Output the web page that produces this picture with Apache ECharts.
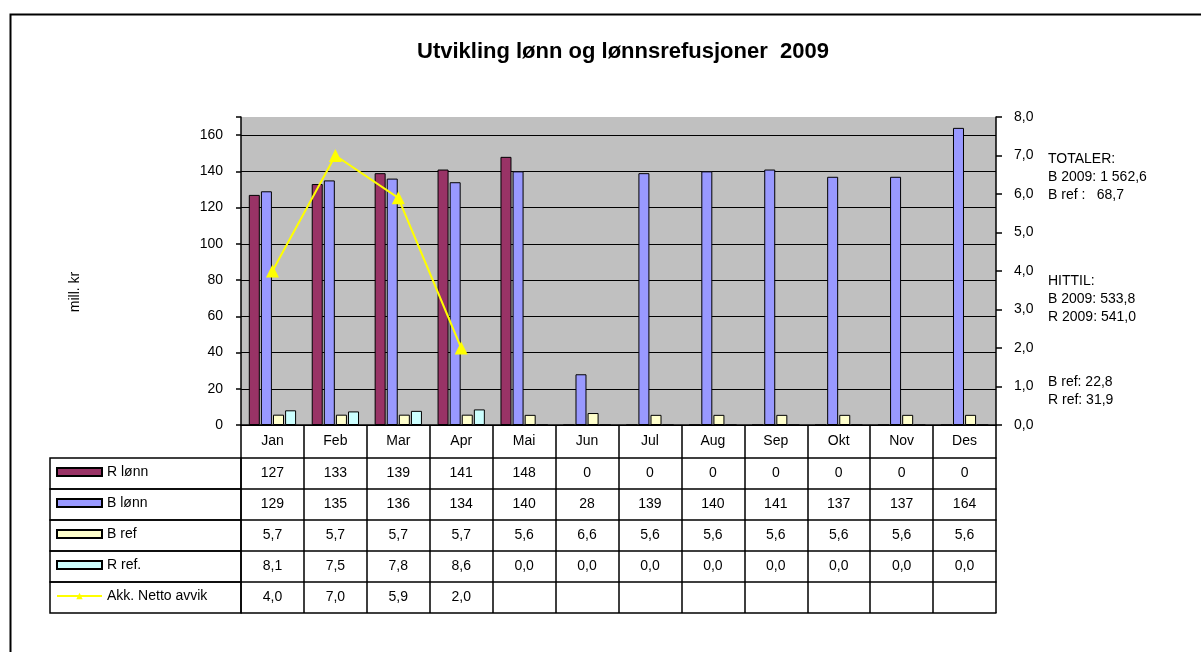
<!DOCTYPE html>
<html>
<head>
<meta charset="utf-8">
<script src="https://cdn.jsdelivr.net/npm/echarts@6/dist/echarts.min.js"></script>
<style>
  html, body { margin: 0; padding: 0; background: #fff; }
  #chart { width: 1201px; height: 652px; }
</style>
</head>
<body>
<div id="chart"></div>
<script>
// data
var months = ['Jan', 'Feb', 'Mar', 'Apr', 'Mai', 'Jun', 'Jul', 'Aug', 'Sep', 'Okt', 'Nov', 'Des'];
var rLonn = [127, 133, 139, 141, 148, 0, 0, 0, 0, 0, 0, 0];
var bLonn = [129, 135, 136, 134, 140, 28, 139, 140, 141, 137, 137, 164];
var bRef = [5.7, 5.7, 5.7, 5.7, 5.6, 6.6, 5.6, 5.6, 5.6, 5.6, 5.6, 5.6];
var rRef = [8.1, 7.5, 7.8, 8.6, 0, 0, 0, 0, 0, 0, 0, 0];
var nettoAvvik = [4.0, 7.0, 5.9, 2.0, null, null, null, null, null, null, null, null];
var leftTicks = [0, 20, 40, 60, 80, 100, 120, 140, 160];
var totalerText = ['TOTALER:', 'B 2009: 1 562,6', 'B ref :'];
var totalerRef = '68,7';
var hittilText = ['HITTIL:', 'B 2009: 533,8', 'R 2009: 541,0'];
var refText = ['B ref: 22,8', 'R ref: 31,9'];

var FONT = 'Liberation Sans, Arial, sans-serif';
var GRID_L = 241, GRID_R = 996, GRID_T = 117, GRID_B = 425;
var HEAD_H = 33;
var ROW_H = 31;

function dec(v) {
  return v == null ? '' : v.toFixed(1).replace('.', ',');
}

var rows = [
  { name: 'R lønn', values: rLonn, fmt: function (v) { return String(v); } },
  { name: 'B lønn', values: bLonn, fmt: function (v) { return String(v); } },
  { name: 'B ref', values: bRef, fmt: dec },
  { name: 'R ref.', values: rRef, fmt: dec },
  { name: 'Akk. Netto avvik', values: nettoAvvik, fmt: dec }
];

var chart = echarts.init(document.getElementById('chart'));

// x axes: the month axis plus one axis per table row (draws the table)
var lineCfg = { onZero: false, lineStyle: { color: '#000', width: 1.5 } };
var xAxes = [{
  type: 'category',
  data: months,
  position: 'bottom',
  axisLine: lineCfg,
  axisTick: { show: true, interval: 0, length: HEAD_H, lineStyle: { color: '#000', width: 1.5 } },
  axisLabel: { interval: 0, margin: 9, color: '#000', fontSize: 14, fontFamily: FONT },
  splitLine: { show: false }
}];
rows.forEach(function (r, k) {
  xAxes.push({
    type: 'category',
    data: months,
    position: 'bottom',
    offset: HEAD_H + k * ROW_H,
    axisLine: lineCfg,
    axisTick: { show: true, interval: 0, length: ROW_H, lineStyle: { color: '#000', width: 1.5 } },
    axisLabel: {
      interval: 0, margin: 8, color: '#000', fontSize: 14, fontFamily: FONT,
      formatter: function (val, idx) { return r.fmt(r.values[idx]); }
    },
    splitLine: { show: false }
  });
});
xAxes.push({
  type: 'category',
  data: months,
  position: 'bottom',
  offset: HEAD_H + rows.length * ROW_H,
  axisLine: lineCfg,
  axisTick: { show: false },
  axisLabel: { show: false },
  splitLine: { show: false }
});

// left column of the table (legend cells)
var tableGraphics = rows.map(function (r, k) {
  return {
    type: 'rect',
    shape: { x: 50, y: GRID_B + HEAD_H + k * ROW_H, width: GRID_L - 50, height: ROW_H },
    style: { fill: 'none', stroke: '#000', lineWidth: 1.5 },
    z: 10
  };
});

function textBlock(lines, x, yTop) {
  return lines.map(function (t, i) {
    return {
      type: 'text', left: x, top: yTop + i * 18,
      style: { text: t, fill: '#000', font: '14px ' + FONT }
    };
  });
}

var barBase = {
  type: 'bar',
  barWidth: 11,
  barGap: '10%'
};

var option = {
  animation: false,
  backgroundColor: '#fff',
  title: {
    text: 'Utvikling lønn og lønnsrefusjoner  2009',
    left: 417, top: 41, padding: 0,
    textStyle: { fontSize: 22, fontWeight: 'bold', color: '#000', fontFamily: FONT }
  },
  legend: {
    orient: 'vertical',
    left: 56, top: 464, padding: 0,
    itemWidth: 45, itemHeight: 8,
    itemGap: 15,
    selectedMode: false,
    textStyle: { fontSize: 14, color: '#000', fontFamily: FONT, lineHeight: 16 },
    data: [
      { name: 'R lønn', icon: 'rect' },
      { name: 'B lønn', icon: 'rect' },
      { name: 'B ref', icon: 'rect' },
      { name: 'R ref.', icon: 'rect' },
      { name: 'Akk. Netto avvik' }
    ]
  },
  grid: {
    left: GRID_L, right: 1201 - GRID_R, top: GRID_T, bottom: 652 - GRID_B,
    show: true, backgroundColor: '#c0c0c0', borderWidth: 0
  },
  xAxis: xAxes,
  yAxis: [{
    type: 'value',
    min: 0, max: 170, interval: 20,
    axisLine: { show: true, lineStyle: { color: '#000', width: 1.5 } },
    axisTick: { show: true, length: 5, lineStyle: { color: '#000', width: 1.5 } },
    axisLabel: {
      color: '#000', fontSize: 14, fontFamily: FONT, margin: 18,
      formatter: function (v) { return leftTicks.indexOf(v) >= 0 ? String(v) : ''; }
    },
    splitLine: { show: true, lineStyle: { color: ['#000', '#000', '#000', '#000', '#000', '#000', '#000', '#000', '#000', '#c0c0c0'], width: 1.2 } }
  }, {
    type: 'value',
    min: 0, max: 8, interval: 1,
    position: 'right',
    axisLine: { show: true, lineStyle: { color: '#000', width: 1.5 } },
    axisTick: { show: true, length: 6, lineStyle: { color: '#000', width: 1.5 } },
    axisLabel: { color: '#000', fontSize: 14, fontFamily: FONT, margin: 18, formatter: dec },
    splitLine: { show: false }
  }],
  graphic: tableGraphics
    .concat(textBlock(totalerText, 1048, 152))
    .concat([{ type: 'text', right: 1201 - 1124, top: 188, style: { text: totalerRef, fill: '#000', font: '14px ' + FONT, align: 'right' } }])
    .concat(textBlock(hittilText, 1048, 274))
    .concat(textBlock(refText, 1048, 375))
    .concat([{
      type: 'text', x: 75, y: 292, rotation: Math.PI / 2,
      style: { text: 'mill. kr', fill: '#000', font: '14px ' + FONT, align: 'center', verticalAlign: 'middle' }
    }, {
      type: 'rect', left: 8, top: 12, silent: true,
      shape: { width: 1400, height: 800 },
      style: { fill: 'none', stroke: '#000', lineWidth: 2 }
    }]),
  series: [
    Object.assign({}, barBase, { name: 'R lønn', data: rLonn, itemStyle: { color: '#993366', borderColor: '#000', borderWidth: 1 } }),
    Object.assign({}, barBase, { name: 'B lønn', data: bLonn, itemStyle: { color: '#9999ff', borderColor: '#000', borderWidth: 1 } }),
    Object.assign({}, barBase, { name: 'B ref', data: bRef, itemStyle: { color: '#ffffcc', borderColor: '#000', borderWidth: 1 } }),
    Object.assign({}, barBase, { name: 'R ref.', data: rRef, itemStyle: { color: '#ccffff', borderColor: '#000', borderWidth: 1 } }),
    {
      name: 'Akk. Netto avvik',
      type: 'line',
      yAxisIndex: 1,
      data: nettoAvvik,
      symbol: 'triangle',
      symbolSize: 13,
      lineStyle: { color: '#ffff00', width: 2 },
      itemStyle: { color: '#ffff00' },
      z: 5
    }
  ]
};

chart.setOption(option);
</script>
</body>
</html>
